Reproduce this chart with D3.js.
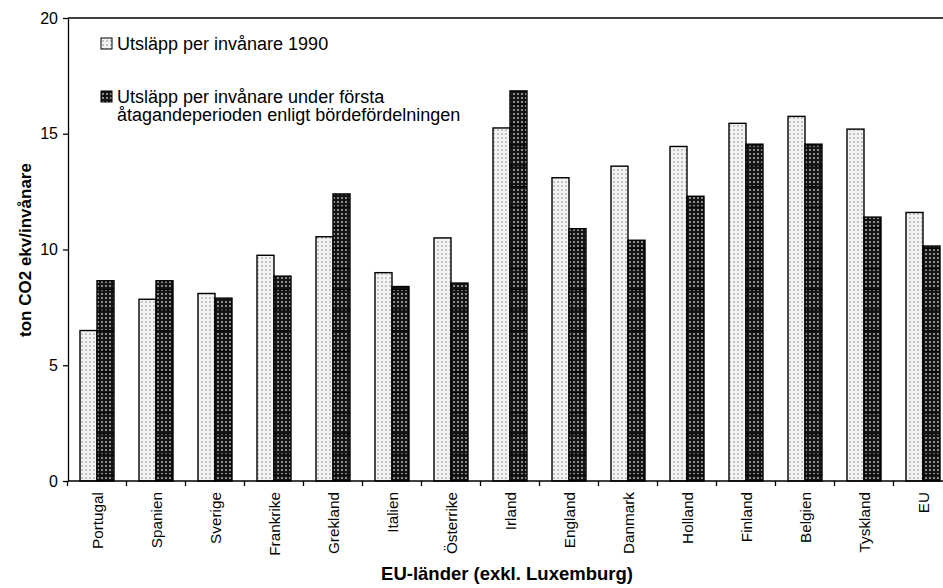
<!DOCTYPE html>
<head>
<meta charset="utf-8">
<script src="https://cdn.jsdelivr.net/npm/d3@7/dist/d3.min.js"></script>
<style>
body { margin: 0; background: #fff; }
svg { font-family: "Liberation Sans", Arial, sans-serif; }
</style>
</head>
<body>
<script>
// data
var countries = ["Portugal", "Spanien", "Sverige", "Frankrike", "Grekland", "Italien", "Österrike",
                 "Irland", "England", "Danmark", "Holland", "Finland", "Belgien", "Tyskland", "EU"];
var utslapp1990 = [6.5, 7.85, 8.1, 9.75, 10.55, 9.0, 10.5, 15.25, 13.1, 13.6, 14.45, 15.45, 15.75, 15.2, 11.6];
var utslappPeriod = [8.65, 8.65, 7.9, 8.85, 12.4, 8.4, 8.55, 16.85, 10.9, 10.4, 12.3, 14.55, 14.55, 11.4, 10.15];
var yTicks = [0, 5, 10, 15, 20];
var legendLabels = [["Utsläpp per invånare 1990"],
                    ["Utsläpp per invånare under första", "åtagandeperioden enligt bördefördelningen"]];

var width = 943, height = 588;
var margin = {top: 18, left: 68, bottom: 481};

var svg = d3.select("body").append("svg")
    .attr("width", width)
    .attr("height", height);

// fill patterns
var defs = svg.append("defs");
var pl = defs.append("pattern").attr("id", "light")
    .attr("patternUnits", "userSpaceOnUse").attr("width", 4).attr("height", 4);
pl.append("rect").attr("width", 4).attr("height", 4).attr("fill", "#f2f2f2");
pl.append("rect").attr("x", 1).attr("y", 1).attr("width", 2).attr("height", 2).attr("fill", "#c4c4c4");

var pd = defs.append("pattern").attr("id", "dark")
    .attr("patternUnits", "userSpaceOnUse").attr("width", 4).attr("height", 4);
pd.append("rect").attr("width", 4).attr("height", 4).attr("fill", "#151515");
pd.append("rect").attr("x", 1).attr("y", 1).attr("width", 2).attr("height", 2).attr("fill", "#8a8a8a");

var pdl = defs.append("pattern").attr("id", "darkLines")
    .attr("patternUnits", "userSpaceOnUse").attr("width", 8).attr("height", 20.6)
    .attr("y", 0.5);
pdl.append("rect").attr("width", 8).attr("height", 1.2).attr("fill", "#000");

var x = d3.scaleBand()
    .domain(countries)
    .range([67.5, 67.5 + 15 * 59]);

var y = d3.scaleLinear()
    .domain([0, 20])
    .range([margin.bottom, margin.top]);

var bw = 17;

// light bars
svg.selectAll("rect.b1990")
    .data(countries)
    .enter().append("rect")
    .attr("class", "b1990")
    .attr("x", d => x(d) + x.bandwidth() / 2 - bw)
    .attr("y", (d, i) => y(utslapp1990[i]))
    .attr("width", bw)
    .attr("height", (d, i) => y(0) - y(utslapp1990[i]))
    .attr("fill", "url(#light)")
    .attr("stroke", "#000")
    .attr("stroke-width", 1.4);

// dark bars
svg.selectAll("rect.bper")
    .data(countries)
    .enter().append("rect")
    .attr("class", "bper")
    .attr("x", d => x(d) + x.bandwidth() / 2)
    .attr("y", (d, i) => y(utslappPeriod[i]))
    .attr("width", bw)
    .attr("height", (d, i) => y(0) - y(utslappPeriod[i]))
    .attr("fill", "url(#dark)");

svg.selectAll("rect.bperl")
    .data(countries)
    .enter().append("rect")
    .attr("class", "bperl")
    .attr("x", d => x(d) + x.bandwidth() / 2)
    .attr("y", (d, i) => y(utslappPeriod[i]))
    .attr("width", bw)
    .attr("height", (d, i) => y(0) - y(utslappPeriod[i]))
    .attr("fill", "url(#darkLines)")
    .attr("stroke", "#000")
    .attr("stroke-width", 1.4);

// top border
svg.append("line")
    .attr("x1", margin.left).attr("x2", width)
    .attr("y1", margin.top).attr("y2", margin.top)
    .attr("stroke", "#000").attr("stroke-width", 1.3);

// y axis
var yAxis = svg.append("g")
    .attr("transform", `translate(${margin.left},0)`)
    .call(d3.axisLeft(y).tickValues(yTicks).tickSize(5).tickSizeOuter(0).tickPadding(5));
yAxis.select(".domain").attr("stroke-width", 1.3);
yAxis.selectAll("line").attr("stroke-width", 1.3);
yAxis.selectAll("text").style("font-size", "16px").attr("fill", "#000")
    .attr("font-family", "Liberation Sans, Arial, sans-serif");

// x axis, ticks between categories
var xAxis = svg.append("g")
    .attr("transform", `translate(0,${margin.bottom})`);
xAxis.append("line")
    .attr("x1", margin.left).attr("x2", width)
    .attr("stroke", "#000").attr("stroke-width", 1.3);
xAxis.selectAll("line.tick")
    .data(countries)
    .enter().append("line")
    .attr("class", "tick")
    .attr("x1", d => x(d)).attr("x2", d => x(d))
    .attr("y1", 0).attr("y2", 5)
    .attr("stroke", "#000").attr("stroke-width", 1.3);
xAxis.selectAll("text")
    .data(countries)
    .enter().append("text")
    .attr("transform", d => `translate(${x(d) + x.bandwidth() / 2 + 6},11) rotate(-90)`)
    .attr("text-anchor", "end")
    .style("font-size", "15.3px")
    .text(d => d);

// axis titles
svg.append("text")
    .attr("transform", "translate(31,250) rotate(-90)")
    .attr("text-anchor", "middle")
    .style("font-size", "17px")
    .style("font-weight", "bold")
    .text("ton CO2 ekv/invånare");

svg.append("text")
    .attr("x", 507)
    .attr("y", 580)
    .attr("text-anchor", "middle")
    .style("font-size", "18.5px")
    .style("font-weight", "bold")
    .text("EU-länder (exkl. Luxemburg)");

// legend
var legendY = [43, 96];
var legendFill = ["url(#light)", "url(#dark)"];
var lg = svg.selectAll("g.legend")
    .data(legendLabels)
    .enter().append("g")
    .attr("class", "legend")
    .attr("transform", (d, i) => `translate(101,${legendY[i]})`);
lg.append("rect")
    .attr("x", 0).attr("y", -5)
    .attr("width", 11).attr("height", 11)
    .attr("fill", (d, i) => legendFill[i])
    .attr("stroke", "#000").attr("stroke-width", 1);
lg.selectAll("text")
    .data(d => d)
    .enter().append("text")
    .attr("x", 16)
    .attr("y", (d, i) => 6.5 + i * 18)
    .style("font-size", "18px")
    .text(d => d);
</script>
</body>
</html>
